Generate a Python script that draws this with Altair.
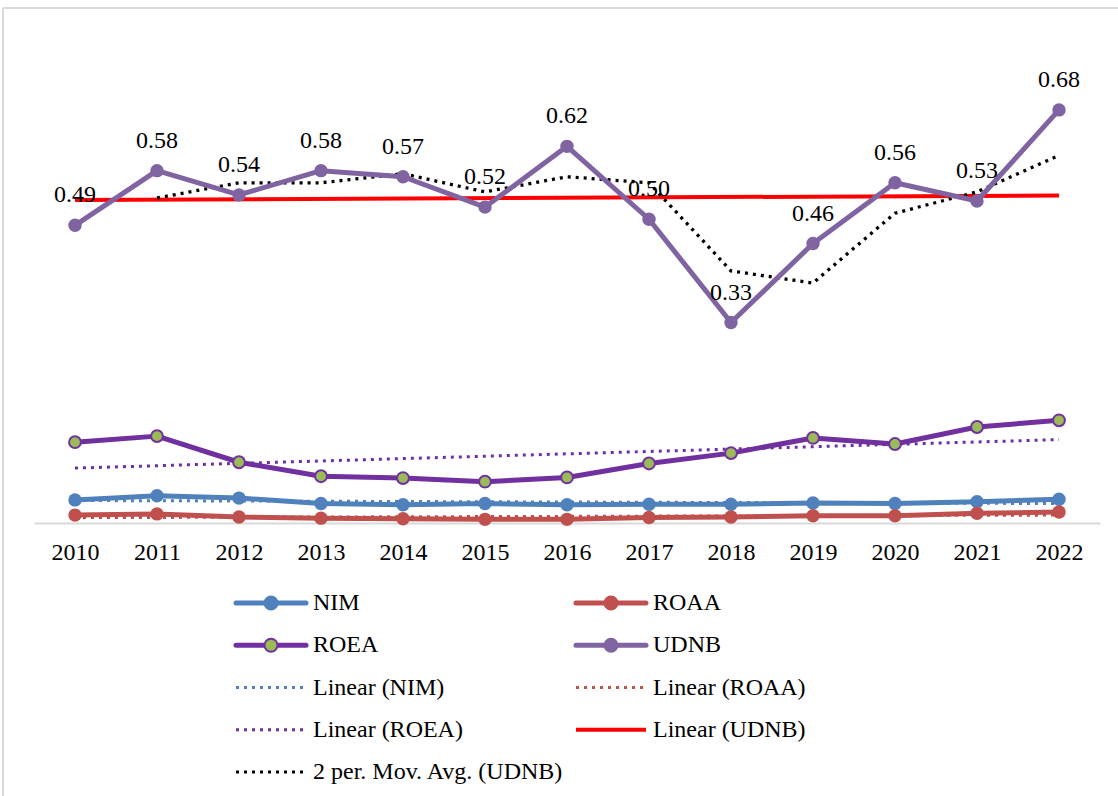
import altair as alt
import pandas as pd

# ---- data ----
years = [2010, 2011, 2012, 2013, 2014, 2015, 2016, 2017, 2018, 2019, 2020, 2021, 2022]
nim = [0.038, 0.045, 0.041, 0.032, 0.030, 0.032, 0.030, 0.031, 0.031, 0.033, 0.032, 0.035, 0.039]
roaa = [0.013, 0.015, 0.010, 0.008, 0.007, 0.006, 0.006, 0.009, 0.010, 0.012, 0.012, 0.016, 0.018]
roea = [0.133, 0.143, 0.100, 0.077, 0.074, 0.068, 0.075, 0.098, 0.115, 0.140, 0.130, 0.158, 0.169]
udnb = [0.49, 0.58, 0.54, 0.58, 0.57, 0.52, 0.62, 0.50, 0.33, 0.46, 0.56, 0.53, 0.68]

legend_labels = ["NIM", "ROAA", "ROEA", "UDNB", "Linear (NIM)", "Linear (ROAA)",
                 "Linear (ROEA)", "Linear (UDNB)", "2 per. Mov. Avg. (UDNB)"]
legend_cols = [0, 1, 0, 1, 0, 1, 0, 1, 0]
legend_rows = [0, 0, 1, 1, 2, 2, 3, 3, 4]
legend_kinds = ["series", "series", "series", "series", "dot", "dot", "dot", "solid", "dot"]
legend_colors = ["#4F81BD", "#C0504D", "#7030A0", "#8064A2", "#4F81BD", "#C0504D",
                 "#7030A0", "#FF0000", "#000000"]
legend_fills = ["#4F81BD", "#C0504D", "#9BBB59", "#8064A2", "", "", "", "", ""]

# ---- styling / layout ----
FONT = "Liberation Serif"
W, H = 1066, 486
C_NIM, C_ROAA, C_ROEA, C_ROEA_FILL, C_UDNB = "#4F81BD", "#C0504D", "#7030A0", "#9BBB59", "#8064A2"
DOT = [3, 5]
COL_X = [202, 542]
SYM_LEN = 70
TXT_GAP = 77

df = pd.DataFrame({"year": years, "NIM": nim, "ROAA": roaa, "ROEA": roea, "UDNB": udnb})

xs = alt.Scale(domain=[2009.5, 2022.5], nice=False, zero=False)
ys = alt.Scale(domain=[0, 0.8], nice=False)
xaxis = alt.Axis(values=years, format="d", title=None, grid=False, ticks=False,
                 labelFont=FONT, labelFontSize=24, labelColor="black", labelPadding=17,
                 domainColor="#d9d9d9", domainWidth=2, labelFlush=False, labelOverlap=False)
X = alt.X("year:Q", scale=xs, axis=xaxis)

base = alt.Chart(df)


def yenc(field):
    return alt.Y(f"{field}:Q", scale=ys, axis=None)


def trend(field, color, width, dash=None):
    kw = dict(color=color, strokeWidth=width)
    if dash:
        kw["strokeDash"] = dash
    return (base.transform_regression("year", field)
            .mark_line(**kw).encode(x=X, y=yenc(field)))


def series_line(field, color):
    return base.mark_line(color=color, strokeWidth=5, strokeJoin="round").encode(x=X, y=yenc(field))


def series_pts(field, fill, stroke, size=180, sw=0):
    return base.mark_point(filled=True, fill=fill, stroke=stroke, strokeWidth=sw,
                           size=size, opacity=1, shape="circle").encode(x=X, y=yenc(field))


mov_avg = (base.transform_window(ma="mean(UDNB)", n="count()", frame=[-1, 0],
                                 sort=[alt.SortField("year")])
           .transform_filter("datum.n == 2")
           .mark_line(color="black", strokeWidth=3.3, strokeDash=DOT)
           .encode(x=X, y=alt.Y("ma:Q", scale=ys, axis=None)))

labels = base.mark_text(font=FONT, fontSize=24, color="black", baseline="alphabetic",
                        dy=-23).encode(x=X, y=yenc("UDNB"), text=alt.Text("UDNB:Q", format=".2f"))

frame_top = alt.Chart(df).mark_rule(color="#d9d9d9", strokeWidth=2).encode(
    x=alt.value(-31), x2=alt.value(1090), y=alt.value(-29))
frame_left = alt.Chart(df).mark_rule(color="#d9d9d9", strokeWidth=2).encode(
    x=alt.value(-31), y=alt.value(-29), y2=alt.value(760))

main = alt.layer(
    frame_top, frame_left,
    trend("NIM", C_NIM, 3, DOT),
    trend("ROAA", C_ROAA, 3, DOT),
    trend("ROEA", C_ROEA, 3, DOT),
    trend("UDNB", "#FF0000", 4),
    mov_avg,
    series_line("NIM", C_NIM),
    series_line("ROAA", C_ROAA),
    series_line("ROEA", C_ROEA),
    series_line("UDNB", C_UDNB),
    series_pts("NIM", C_NIM, C_NIM),
    series_pts("ROAA", C_ROAA, C_ROAA),
    series_pts("ROEA", C_ROEA_FILL, C_ROEA, size=140, sw=2),
    series_pts("UDNB", C_UDNB, C_UDNB),
    labels,
)

# ---- legend ----
leg = pd.DataFrame({"label": legend_labels, "col": legend_cols, "row": legend_rows,
                    "kind": legend_kinds, "color": legend_colors, "fill": legend_fills})
leg["x1"] = [COL_X[c] for c in leg["col"]]
leg["x2"] = leg["x1"] + SYM_LEN
leg["xm"] = leg["x1"] + SYM_LEN / 2
leg["xt"] = leg["x1"] + TXT_GAP

lxs = alt.Scale(domain=[0, W], range=[0, W], nice=False, zero=False)
lys = alt.Scale(domain=[0, 4], range=[566, 735], nice=False, zero=False)
LY = alt.Y("row:Q", scale=lys, axis=None)
lbase = alt.Chart(leg)

leg_series = lbase.transform_filter("datum.kind == 'series'").mark_rule(strokeWidth=5, strokeCap="round").encode(
    x=alt.X("x1:Q", scale=lxs, axis=None), x2="x2:Q", y=LY, color=alt.Color("color:N", scale=None))
leg_solid = lbase.transform_filter("datum.kind == 'solid'").mark_rule(strokeWidth=4).encode(
    x=alt.X("x1:Q", scale=lxs, axis=None), x2="x2:Q", y=LY, color=alt.Color("color:N", scale=None))
leg_dot = lbase.transform_filter("datum.kind == 'dot'").mark_rule(strokeWidth=3, strokeDash=DOT).encode(
    x=alt.X("x1:Q", scale=lxs, axis=None), x2="x2:Q", y=LY, color=alt.Color("color:N", scale=None))
leg_pts = lbase.transform_filter("datum.kind == 'series'").mark_point(
    filled=True, shape="circle", size=170, strokeWidth=2, opacity=1).encode(
    x=alt.X("xm:Q", scale=lxs, axis=None), y=LY,
    fill=alt.Fill("fill:N", scale=None), stroke=alt.Stroke("color:N", scale=None))
leg_txt = lbase.mark_text(font=FONT, fontSize=24, color="black", align="left", baseline="middle").encode(
    x=alt.X("xt:Q", scale=lxs, axis=None), y=LY, text="label:N")

legend = alt.layer(leg_series, leg_solid, leg_dot, leg_pts, leg_txt)

chart = (alt.layer(main, legend)
         .resolve_scale(x="independent", y="independent")
         .properties(width=W, height=H, background="white",
                     autosize=alt.AutoSizeParams(type="none"),
                     padding={"left": 34, "top": 37, "right": 18, "bottom": 273})
         .configure_view(stroke=None))

chart.save("out.html", embed_options={"renderer": "svg", "actions": False})
